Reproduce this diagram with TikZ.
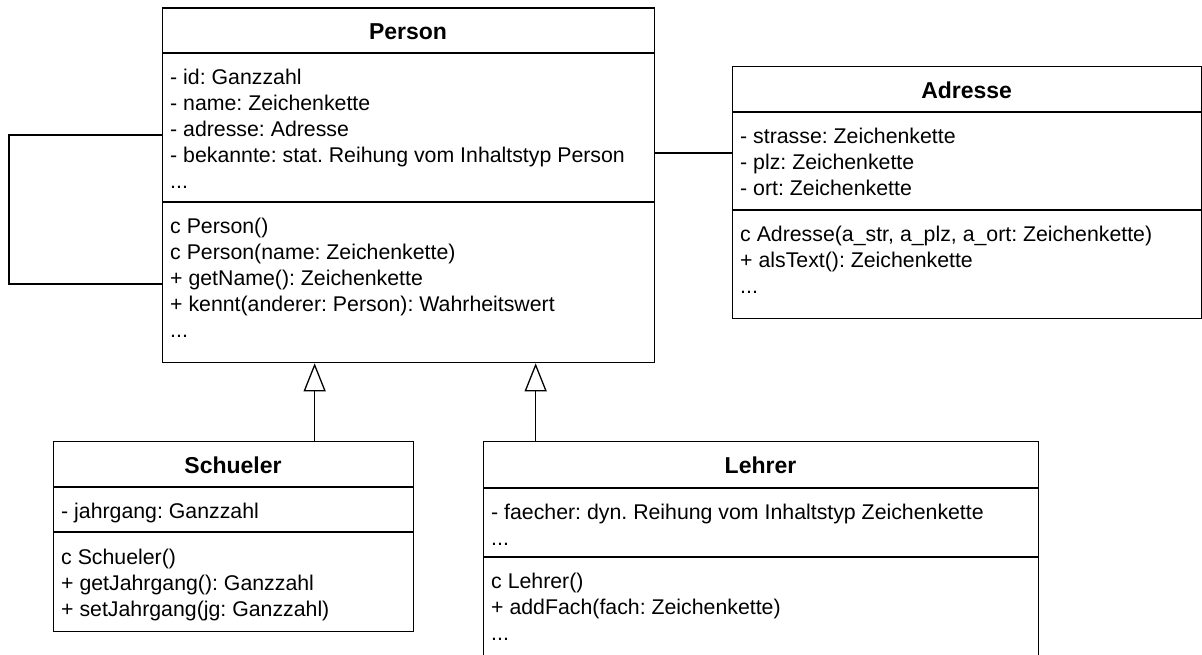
\documentclass[tikz,border=0pt]{standalone}
\usepackage{fontspec}
\setmainfont{Liberation Sans}
\usetikzlibrary{arrows.meta}
\frenchspacing
\tikzset{
  classbox/.style={draw, line width=1.3pt, anchor=north west, inner sep=0pt},
  ctitle/.style={font=\fontsize{23}{27}\selectfont\bfseries, anchor=base, inner sep=0pt},
  ctext/.style={font=\fontsize{21.3}{26}\selectfont\frenchspacing, anchor=north west, inner sep=0pt, align=left},
  sepline/.style={line width=1.3pt},
  assoc/.style={line width=1.3pt},
  gen/.style={line width=1.3pt, -{Triangle[open, length=28pt, width=22pt, line width=1.3pt]}},
}
\begin{document}
\begin{tikzpicture}[x=1pt, y=-1pt]
\clip (0,0) rectangle (1202,655);
\fill[white] (0,0) rectangle (1202,655);

% Person
\node[classbox, minimum width=492pt, minimum height=354.5pt] (person) at (162,7.5) {};
\node[ctitle] (personT) at (408,40) {Person};
\draw[sepline] (162,53) -- (654,53);
\draw[sepline] (162,202) -- (654,202);
\node[ctext] (personA) at (170,65.8) {\strut- id: Ganzzahl\\- name: Zeichenkette\\- adresse: Adresse\\- bekannte: stat. Reihung vom Inhaltstyp Person\\...};
\node[ctext] (personM) at (170,214.8) {\strut c Person()\\c Person(name: Zeichenkette)\\+ getName(): Zeichenkette\\+ kennt(anderer: Person): Wahrheitswert\\...};

% Adresse
\node[classbox, minimum width=469.3pt, minimum height=252pt] (adresse) at (732,66) {};
\node[ctitle] (adresseT) at (966.65,99) {Adresse};
\draw[sepline] (732,112) -- (1201.3,112);
\draw[sepline] (732,210) -- (1201.3,210);
\node[ctext] (adresseA) at (740,124.8) {\strut- strasse: Zeichenkette\\- plz: Zeichenkette\\- ort: Zeichenkette};
\node[ctext] (adresseM) at (740,222.8) {\strut c Adresse(a\_str, a\_plz, a\_ort: Zeichenkette)\\+ alsText(): Zeichenkette\\...};

% Schueler
\node[classbox, minimum width=360pt, minimum height=190pt] (schueler) at (53,441) {};
\node[ctitle] (schuelerT) at (233,473) {Schueler};
\draw[sepline] (53,487) -- (413,487);
\draw[sepline] (53,532) -- (413,532);
\node[ctext] (schuelerA) at (61,499.8) {\strut- jahrgang: Ganzzahl};
\node[ctext] (schuelerM) at (61,545.8) {\strut c Schueler()\\+ getJahrgang(): Ganzzahl\\+ setJahrgang(jg: Ganzzahl)};

% Lehrer
\node[classbox, minimum width=555pt, minimum height=240pt] (lehrer) at (483,441) {};
\node[ctitle] (lehrerT) at (760.5,473) {Lehrer};
\draw[sepline] (483,488) -- (1038,488);
\draw[sepline] (483,557) -- (1038,557);
\node[ctext] (lehrerA) at (491,500.8) {\strut- faecher: dyn. Reihung vom Inhaltstyp Zeichenkette\\...};
\node[ctext] (lehrerM) at (491,569.8) {\strut c Lehrer()\\+ addFach(fach: Zeichenkette)\\...};

% connectors
\draw[assoc] ([yshift=-127.5pt]person.north west) -- ++(-153,0) |- ([yshift=-276.5pt]person.north west);
\draw[assoc] ([yshift=-145.5pt]person.north east) -- ([yshift=-87pt]adresse.north west);
\draw[gen] ([xshift=81pt]schueler.north) -- ([xshift=-94pt]person.south);
\draw[gen] ([xshift=-225.5pt]lehrer.north) -- ([xshift=127pt]person.south);
\end{tikzpicture}
\end{document}
